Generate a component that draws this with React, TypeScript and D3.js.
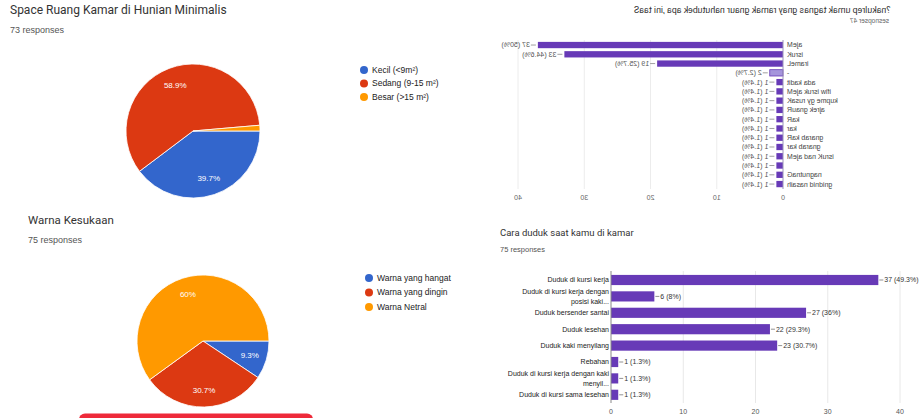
import React from 'react';
import * as d3 from 'd3';

const W = 919;
const H = 418;

// ---- Data ----
const roomSizeLabels = ['Kecil (<9m²)', 'Sedang (9-15 m²)', 'Besar (>15 m²)'];
const roomSizeCounts = [29, 43, 1];
const roomSizePct = ['39.7%', '58.9%', '1.4%'];

const colorLabels = ['Warna yang hangat', 'Warna yang dingin', 'Warna Netral'];
const colorCounts = [7, 23, 45];
const colorPct = ['9.3%', '30.7%', '60%'];

const needCategories = [
  'Meja', 'Kursi', 'Lemari', '-', 'tidak ada', 'Meja kursi wifi', 'Kasur yg empuk',
  'Ruang kerja', 'Rak', 'rak', 'Rak barang', 'rak barang', 'Meja dan Kursi', '',
  'Gantungan', 'hiasan dinding',
];
const needCounts = [37, 33, 19, 2, 1, 1, 1, 1, 1, 1, 1, 1, 1, 1, 1, 1];
const needPct = ['50%', '44.6%', '25.7%', '2.7%', '1.4%', '1.4%', '1.4%', '1.4%', '1.4%', '1.4%',
  '1.4%', '1.4%', '1.4%', '1.4%', '1.4%', '1.4%'];
const needHighlighted = '-';

const sitCategories = [
  'Duduk di kursi kerja',
  'Duduk di kursi kerja dengan posisi kaki...',
  'Duduk bersender santai',
  'Duduk lesehan',
  'Duduk kaki menyilang',
  'Rebahan',
  'Duduk di kursi kerja dengan kaki menyil...',
  'Duduk di kursi sama lesehan',
];
const sitLabelLines = [
  ['Duduk di kursi kerja'],
  ['Duduk di kursi kerja dengan', 'posisi kaki...'],
  ['Duduk bersender santai'],
  ['Duduk lesehan'],
  ['Duduk kaki menyilang'],
  ['Rebahan'],
  ['Duduk di kursi kerja dengan kaki', 'menyil...'],
  ['Duduk di kursi sama lesehan'],
];
const sitCounts = [37, 6, 27, 22, 23, 1, 1, 1];
const sitPct = ['49.3%', '8%', '36%', '29.3%', '30.7%', '1.3%', '1.3%', '1.3%'];

const axisTicks = [0, 10, 20, 30, 40];

const PIE_COLORS = ['#3366cc', '#dc3912', '#ff9900'];
const BAR_COLOR = '#673ab7';
const TITLE_FONT = 'Roboto, "Liberation Sans", Arial, sans-serif';
const CHART_FONT = '"Liberation Sans", Arial, sans-serif';

// ---- Helpers ----
let measureCtx: CanvasRenderingContext2D | null = null;
function prefixWidths(text: string, font: string): number[] {
  if (!measureCtx) measureCtx = document.createElement('canvas').getContext('2d');
  const out = [0];
  if (!measureCtx) {
    for (let i = 1; i <= text.length; i++) out.push(out[i - 1] + 0.5 * parseFloat(font));
    return out;
  }
  measureCtx.font = font;
  for (let i = 1; i <= text.length; i++) out.push(measureCtx.measureText(text.slice(0, i)).width);
  return out;
}

function PieChart(props: {
  cx: number; cy: number; r: number; values: number[]; pct: string[]; labels: string[];
  legendX: number; legendY: number; legendStep: number;
}) {
  const { cx, cy, r, values, pct, labels, legendX, legendY, legendStep } = props;
  const total = d3.sum(values);
  const arcs = d3.pie<number>().sort(null).startAngle(Math.PI / 2).endAngle(Math.PI / 2 + 2 * Math.PI)(values);
  const arc = d3.arc<d3.PieArcDatum<number>>().innerRadius(0).outerRadius(r);
  const labelArc = d3.arc<d3.PieArcDatum<number>>().innerRadius(r * 0.74).outerRadius(r * 0.74);
  return (
    <g>
      <g transform={`translate(${cx},${cy})`}>
        {arcs.map((a, i) => (
          <path key={i} d={arc(a) || ''} fill={PIE_COLORS[i]} stroke="#fff" strokeWidth={0.8} />
        ))}
        {arcs.map((a, i) => {
          if (a.value / total < 0.05) return null;
          const [lx, ly] = labelArc.centroid(a);
          return (
            <text key={i} x={lx} y={ly} dy="0.35em" textAnchor="middle" fill="#fff"
              fontSize={8} fontFamily={CHART_FONT}>{pct[i]}</text>
          );
        })}
      </g>
      {labels.map((l, i) => (
        <g key={i}>
          <circle cx={legendX} cy={legendY + i * legendStep} r={4} fill={PIE_COLORS[i]} />
          <text x={legendX + 8} y={legendY + i * legendStep} dy="0.35em" fontSize={8.5}
            fontFamily={CHART_FONT} fill="#222">{l}</text>
        </g>
      ))}
    </g>
  );
}

// fully mirrored text (reversed glyph order, mirrored glyphs)
function MirrorText(props: { x: number; y: number; anchor?: string; size: number; fill?: string; children: React.ReactNode }) {
  const { x, y, anchor = 'start', size, fill = '#555', children } = props;
  return (
    <text transform={`translate(${x},${y}) scale(-1,1)`} textAnchor={anchor} dy="0.35em"
      fontSize={size} fontFamily={CHART_FONT} fill={fill}>{children}</text>
  );
}

// mirrored glyphs kept in reading order: each glyph rotated 180deg, then the run flipped vertically
function MirrorGlyphText(props: { x: number; y: number; align?: 'start' | 'end'; size: number; fill?: string; font?: string; text: string }) {
  const { x, y, align = 'start', size, fill = '#555', font = CHART_FONT, text } = props;
  if (!text) return null;
  const pre = prefixWidths(text, `${size}px ${font}`);
  const widths = text.split('').map((_, i) => pre[i + 1] - pre[i]);
  const dx = widths.map((w, i) => (i === 0 ? w : w - widths[i - 1]));
  const total = pre[pre.length - 1];
  const x0 = align === 'end' ? x - total : x;
  return (
    <text transform={`translate(${x0},${y}) scale(1,-1)`} dx={dx.map((d) => d.toFixed(2)).join(' ')}
      dy="-0.35em" rotate="180" fontSize={size} fontFamily={font} fill={fill}>{text}</text>
  );
}

function NeedChart() {
  const x = d3.scaleLinear().domain([0, 40]).range([783, 518]);
  const y = d3.scaleBand<string>().domain(needCategories.map((c, i) => `${i}`)).range([40.4, 188.7]).paddingInner(0.32).paddingOuter(0.16);
  const top = 40;
  const bottom = 189;
  return (
    <g>
      <MirrorGlyphText x={890} y={10} align="end" size={8.8} fill="#333" font={TITLE_FONT}
        text="Saat ini, apa kebutuhan ruang kamar yang sangat kamu perlukan?" />
      <MirrorGlyphText x={889} y={21} align="end" size={6.5} fill="#666" text="74 responses" />
      {axisTicks.filter((t) => t > 0).map((t) => (
        <line key={t} x1={x(t)} x2={x(t)} y1={top} y2={bottom} stroke="#ececec" strokeWidth={1} />
      ))}
      {needCategories.map((c, i) => {
        const yy = y(`${i}`)!;
        const bh = y.bandwidth();
        const x0 = x(0);
        const x1 = x(needCounts[i]);
        const hl = c === needHighlighted;
        return (
          <g key={i}>
            <rect x={x1} y={yy} width={x0 - x1} height={bh}
              fill={hl ? '#a595dc' : BAR_COLOR} stroke={hl ? BAR_COLOR : 'none'} strokeWidth={hl ? 0.8 : 0} />
            <line x1={x1 - 2} x2={x1 - 7} y1={yy + bh / 2} y2={yy + bh / 2} stroke="#888" strokeWidth={0.8} />
            <MirrorText x={x1 - 8} y={yy + bh / 2} size={7} fill="#555">
              {`${needCounts[i]} (${needPct[i]})`}
            </MirrorText>
            <MirrorGlyphText x={787} y={yy + bh / 2} align="start" size={7} fill="#444" text={c} />
          </g>
        );
      })}
      <line x1={x(0)} x2={x(0)} y1={top} y2={bottom} stroke="#9a92b8" strokeWidth={1} />
      {axisTicks.map((t) => (
        <MirrorText key={t} x={x(t)} y={198} anchor="middle" size={7} fill="#666">{`${t}`}</MirrorText>
      ))}
    </g>
  );
}

function SitChart() {
  const x = d3.scaleLinear().domain([0, 40]).range([611, 900]);
  const y = d3.scaleBand<string>().domain(sitCategories).range([271.8, 403]).paddingInner(0.38).paddingOuter(0.19);
  const top = 271;
  const bottom = 403;
  return (
    <g>
      <text x={500} y={236} fontSize={9.5} fontFamily={TITLE_FONT} fill="#333">Cara duduk saat kamu di kamar</text>
      <text x={500} y={252} fontSize={7.5} fontFamily={CHART_FONT} fill="#555">75 responses</text>
      {axisTicks.filter((t) => t > 0).map((t) => (
        <line key={t} x1={x(t)} x2={x(t)} y1={top} y2={bottom} stroke="#e8e8e8" strokeWidth={1} />
      ))}
      {sitCategories.map((c, i) => {
        const yy = y(c)!;
        const bh = y.bandwidth();
        const x1 = x(sitCounts[i]);
        const cyy = yy + bh / 2;
        const lines = sitLabelLines[i];
        return (
          <g key={c}>
            <rect x={x(0)} y={yy} width={x1 - x(0)} height={bh} fill={BAR_COLOR} />
            <line x1={x1 + 1} x2={x1 + 5} y1={cyy} y2={cyy} stroke="#777" strokeWidth={0.8} />
            <text x={x1 + 6} y={cyy} dy="0.35em" fontSize={7} fontFamily={CHART_FONT} fill="#333">
              {`${sitCounts[i]} (${sitPct[i]})`}
            </text>
            {lines.map((ln, j) => (
              <text key={j} x={609} y={cyy + (j - (lines.length - 1) / 2) * 9.5} dy="0.35em" textAnchor="end"
                fontSize={7} fontFamily={CHART_FONT} fill="#222">{ln}</text>
            ))}
          </g>
        );
      })}
      <line x1={x(0)} x2={x(0)} y1={top} y2={bottom} stroke="#888" strokeWidth={1} />
      {axisTicks.map((t) => (
        <text key={t} x={x(t)} y={412} dy="0.35em" textAnchor="middle" fontSize={7} fontFamily={CHART_FONT} fill="#555">{t}</text>
      ))}
    </g>
  );
}

export default function App() {
  return (
    <svg width={W} height={H} viewBox={`0 0 ${W} ${H}`}
      style={{ position: 'absolute', left: 0, top: 0, background: '#fff' }}>
      <rect x={0} y={0} width={W} height={H} fill="#fff" />
      <text x={10} y={14} fontSize={12} fontFamily={TITLE_FONT} fill="#333">Space Ruang Kamar di Hunian Minimalis</text>
      <text x={10} y={33} fontSize={9} fontFamily={CHART_FONT} fill="#555">73 responses</text>
      <PieChart cx={193} cy={131} r={67} values={roomSizeCounts} pct={roomSizePct} labels={roomSizeLabels}
        legendX={364} legendY={70} legendStep={13.5} />

      <text x={28} y={224} fontSize={11.5} fontFamily={TITLE_FONT} fill="#333">Warna Kesukaan</text>
      <text x={28} y={243} fontSize={9} fontFamily={CHART_FONT} fill="#555">75 responses</text>
      <PieChart cx={203} cy={341} r={66} values={colorCounts} pct={colorPct} labels={colorLabels}
        legendX={369} legendY={278} legendStep={14.5} />

      <NeedChart />
      <SitChart />

      <rect x={79} y={413.5} width={234} height={12} rx={6} fill="#ee2a3a" />
    </svg>
  );
}
